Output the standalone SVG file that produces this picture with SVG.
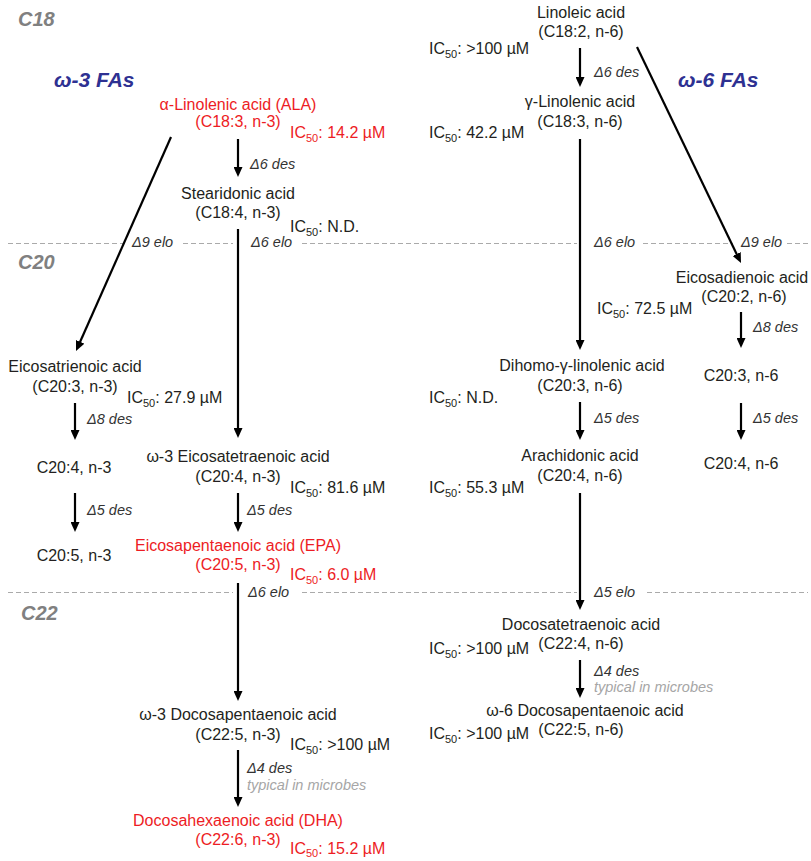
<svg xmlns="http://www.w3.org/2000/svg" width="811" height="861" viewBox="0 0 811 861">
<defs>
<style>
text{font-family:"Liberation Sans",Arial,sans-serif;font-size:16px;fill:#231f20}
.c{text-anchor:middle}
.red{fill:#ed1c24}
.sub{font-size:11px}
.lab{font-size:14.5px;font-style:italic;fill:#333}
.note{font-size:14.5px;font-style:italic;fill:#a6a6a6}
.sec{font-size:20px;font-weight:bold;font-style:italic;fill:#808080}
.fam{font-size:21px;font-weight:bold;font-style:italic;fill:#2e3192}
.arr{stroke:#000;stroke-width:2.2;fill:none;marker-end:url(#ah)}
.dash{stroke:#aaa;stroke-width:1;stroke-dasharray:5 3;fill:none}
</style>
<marker id="ah" markerUnits="userSpaceOnUse" markerWidth="10" markerHeight="9" refX="1" refY="4.5" orient="auto">
<path d="M0,0 L10,4.5 L0,9 z" fill="#000"/>
</marker>
</defs>
<rect width="811" height="861" fill="#fff"/>

<g id="sections">
<text class="sec" x="18" y="26">C18</text>
<text class="sec" x="18" y="269">C20</text>
<text class="sec" x="21" y="620">C22</text>
<text class="fam" x="54" y="87">ω-3 FAs</text>
<text class="fam" x="678" y="87">ω-6 FAs</text>
<path class="dash" d="M8,243.5H123M183,243.5H233M302,243.5H577M643,243.5H733M787,243.5H808"/>
<path class="dash" d="M8,592.5H233M302,592.5H577M647,592.5H808"/>
</g>

<g id="connectors">
<line class="arr" x1="238" y1="139" x2="238" y2="168"/>
<line class="arr" x1="238" y1="229" x2="238" y2="429"/>
<line class="arr" x1="238" y1="493" x2="238" y2="523"/>
<line class="arr" x1="238" y1="583" x2="238" y2="692"/>
<line class="arr" x1="238" y1="750" x2="238" y2="798"/>
<line class="arr" x1="75" y1="403" x2="75" y2="431"/>
<line class="arr" x1="75" y1="493" x2="75" y2="523"/>
<line class="arr" x1="171" y1="137" x2="79.7" y2="342.8"/>
<line class="arr" x1="580" y1="48" x2="580" y2="78"/>
<line class="arr" x1="580" y1="139" x2="580" y2="341"/>
<line class="arr" x1="580" y1="402" x2="580" y2="431"/>
<line class="arr" x1="580" y1="493" x2="580" y2="601"/>
<line class="arr" x1="580" y1="660" x2="580" y2="689"/>
<line class="arr" x1="637" y1="47" x2="737.1" y2="254.9"/>
<line class="arr" x1="741" y1="312" x2="741" y2="339"/>
<line class="arr" x1="741" y1="403" x2="741" y2="431"/>
<text class="lab" x="250" y="169">Δ6 des</text>
<text class="lab" x="132" y="247">Δ9 elo</text>
<text class="lab" x="251" y="247">Δ6 elo</text>
<text class="lab" x="87" y="424">Δ8 des</text>
<text class="lab" x="87" y="515">Δ5 des</text>
<text class="lab" x="247" y="515">Δ5 des</text>
<text class="lab" x="248" y="597">Δ6 elo</text>
<text class="lab" x="247" y="773">Δ4 des</text>
<text class="note" x="247" y="790">typical in microbes</text>
<text class="lab" x="594" y="77">Δ6 des</text>
<text class="lab" x="594" y="247">Δ6 elo</text>
<text class="lab" x="741" y="247">Δ9 elo</text>
<text class="lab" x="753" y="332">Δ8 des</text>
<text class="lab" x="594" y="423">Δ5 des</text>
<text class="lab" x="753" y="423">Δ5 des</text>
<text class="lab" x="594" y="597">Δ5 elo</text>
<text class="lab" x="594" y="676">Δ4 des</text>
<text class="note" x="594" y="692">typical in microbes</text>
</g>

<g id="ala">
<text class="c red" x="238" y="110">α-Linolenic acid (ALA)</text>
<text class="c red" x="238" y="127">(C18:3, n-3)</text>
<text class="red" x="290" y="138">IC<tspan class="sub" dy="4">50</tspan><tspan dy="-4">: 14.2 µM</tspan></text>
</g>
<g id="sda">
<text class="c" x="238" y="199">Stearidonic acid</text>
<text class="c" x="238" y="218">(C18:4, n-3)</text>
<text x="290" y="232">IC<tspan class="sub" dy="4">50</tspan><tspan dy="-4">: N.D.</tspan></text>
</g>
<g id="ete3">
<text class="c" x="75" y="372">Eicosatrienoic acid</text>
<text class="c" x="75" y="392">(C20:3, n-3)</text>
<text x="127" y="403">IC<tspan class="sub" dy="4">50</tspan><tspan dy="-4">: 27.9 µM</tspan></text>
</g>
<g id="c204n3">
<text class="c" x="74" y="473">C20:4, n-3</text>
</g>
<g id="c205n3">
<text class="c" x="74" y="561">C20:5, n-3</text>
</g>
<g id="eta">
<text class="c" x="238" y="462">ω-3 Eicosatetraenoic acid</text>
<text class="c" x="238" y="482">(C20:4, n-3)</text>
<text x="290" y="493">IC<tspan class="sub" dy="4">50</tspan><tspan dy="-4">: 81.6 µM</tspan></text>
</g>
<g id="epa">
<text class="c red" x="238" y="551">Eicosapentaenoic acid (EPA)</text>
<text class="c red" x="238" y="570">(C20:5, n-3)</text>
<text class="red" x="290" y="580">IC<tspan class="sub" dy="4">50</tspan><tspan dy="-4">: 6.0 µM</tspan></text>
</g>
<g id="dpa3">
<text class="c" x="238" y="720">ω-3 Docosapentaenoic acid</text>
<text class="c" x="238" y="740">(C22:5, n-3)</text>
<text x="290" y="750">IC<tspan class="sub" dy="4">50</tspan><tspan dy="-4">: &gt;100 µM</tspan></text>
</g>
<g id="dha">
<text class="c red" x="238" y="826">Docosahexaenoic acid (DHA)</text>
<text class="c red" x="238" y="845">(C22:6, n-3)</text>
<text class="red" x="290" y="854">IC<tspan class="sub" dy="3">50</tspan><tspan dy="-3">: 15.2 µM</tspan></text>
</g>

<g id="la">
<text class="c" x="581" y="18">Linoleic acid</text>
<text class="c" x="581" y="37">(C18:2, n-6)</text>
<text x="429" y="54">IC<tspan class="sub" dy="4">50</tspan><tspan dy="-4">: &gt;100 µM</tspan></text>
</g>
<g id="gla">
<text class="c" x="580" y="107">γ-Linolenic acid</text>
<text class="c" x="580" y="127">(C18:3, n-6)</text>
<text x="429" y="138">IC<tspan class="sub" dy="4">50</tspan><tspan dy="-4">: 42.2 µM</tspan></text>
</g>
<g id="eda">
<text class="c" x="742" y="283">Eicosadienoic acid</text>
<text class="c" x="744" y="302">(C20:2, n-6)</text>
<text x="597" y="314">IC<tspan class="sub" dy="4">50</tspan><tspan dy="-4">: 72.5 µM</tspan></text>
</g>
<g id="c203n6">
<text class="c" x="741" y="381">C20:3, n-6</text>
</g>
<g id="c204n6">
<text class="c" x="741" y="469">C20:4, n-6</text>
</g>
<g id="dgla">
<text class="c" x="582" y="371">Dihomo-γ-linolenic acid</text>
<text class="c" x="580" y="391">(C20:3, n-6)</text>
<text x="429" y="403">IC<tspan class="sub" dy="4">50</tspan><tspan dy="-4">: N.D.</tspan></text>
</g>
<g id="aa">
<text class="c" x="580" y="461">Arachidonic acid</text>
<text class="c" x="580" y="481">(C20:4, n-6)</text>
<text x="429" y="493">IC<tspan class="sub" dy="4">50</tspan><tspan dy="-4">: 55.3 µM</tspan></text>
</g>
<g id="dta">
<text class="c" x="581" y="630">Docosatetraenoic acid</text>
<text class="c" x="581" y="649">(C22:4, n-6)</text>
<text x="429" y="654">IC<tspan class="sub" dy="4">50</tspan><tspan dy="-4">: &gt;100 µM</tspan></text>
</g>
<g id="dpa6">
<text class="c" x="585" y="716">ω-6 Docosapentaenoic acid</text>
<text class="c" x="581" y="735">(C22:5, n-6)</text>
<text x="429" y="739">IC<tspan class="sub" dy="4">50</tspan><tspan dy="-4">: &gt;100 µM</tspan></text>
</g>
</svg>
